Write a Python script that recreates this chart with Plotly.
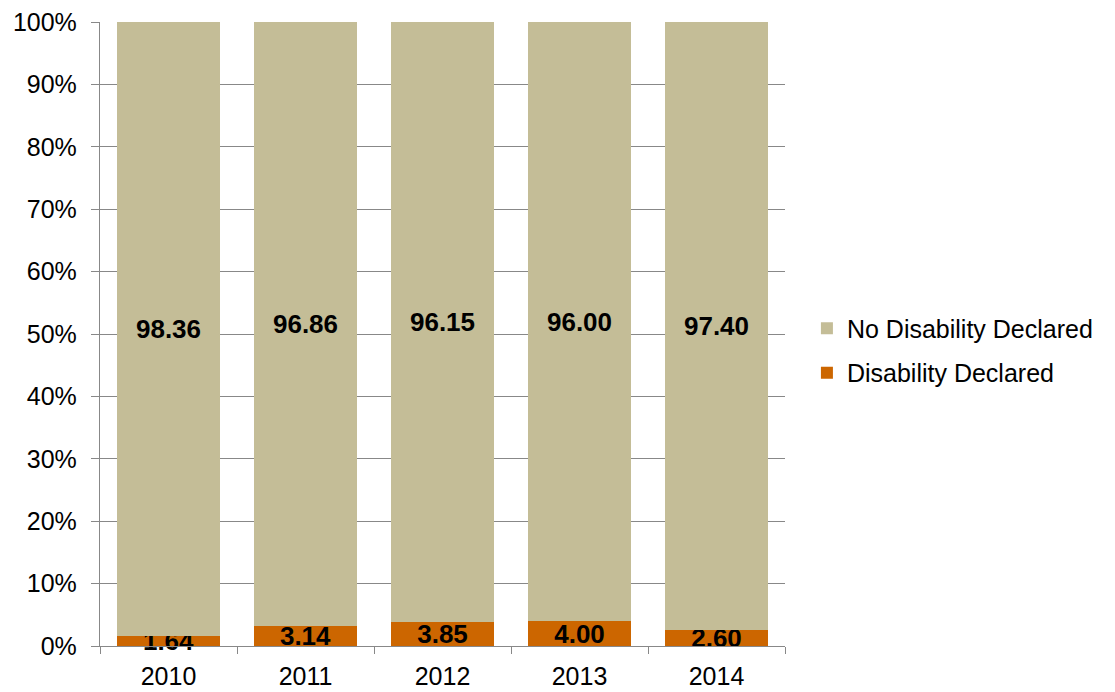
import plotly.graph_objects as go

years = ["2010", "2011", "2012", "2013", "2014"]
disability = [1.64, 3.14, 3.85, 4.00, 2.60]
no_disability = [98.36, 96.86, 96.15, 96.00, 97.40]

FONT = "Liberation Sans, Arial"

fig = go.Figure()
fig.add_trace(go.Bar(
    x=years, y=disability, name="Disability Declared",
    marker=dict(color="#CC6600", line=dict(width=0)),
    texttemplate="%{y:.2f}", textposition="inside", insidetextanchor="middle",
    constraintext="none", cliponaxis=False,
    textfont=dict(family=FONT, size=26, color="black", weight="bold"),
    legendrank=2, legendgroup="dis",
))
fig.add_trace(go.Bar(
    x=years, y=no_disability, name="No Disability Declared",
    marker=dict(color="#C4BD97", line=dict(width=0)),
    texttemplate="%{y:.2f}", textposition="inside", insidetextanchor="middle",
    constraintext="none",
    textfont=dict(family=FONT, size=26, color="black", weight="bold"),
    legendrank=1, legendgroup="nodis",
))

fig.update_layout(
    barmode="stack",
    bargap=0.255,
    width=1107, height=684,
    margin=dict(l=92, r=330, t=14, b=46, autoexpand=False),
    plot_bgcolor="white", paper_bgcolor="white",
    font=dict(family=FONT, size=25, color="black"),
    uniformtext=dict(minsize=26, mode="show"),
    showlegend=True,
    legend=dict(
        x=1.032, xanchor="left", xref="paper", y=0.4736, yanchor="middle",
        traceorder="grouped", tracegroupgap=9,
        font=dict(size=25), itemwidth=30,
    ),
    xaxis=dict(
        showline=True, linecolor="#888888", linewidth=1.3,
        ticks="outside", tickson="boundaries", ticklen=7, tickcolor="#888888",
        tickfont=dict(size=25), showgrid=False, ticklabelstandoff=8,
        automargin=False,
    ),
    yaxis=dict(
        range=[0, 100], dtick=10, ticksuffix="%",
        showline=True, linecolor="#888888", linewidth=1.3,
        ticks="outside", ticklen=8, tickcolor="#888888",
        showgrid=True, gridcolor="#888888", gridwidth=1.3,
        tickfont=dict(size=25), zeroline=False, ticklabelstandoff=9,
        automargin=False, ticklabeloverflow="allow",
    ),
)

fig.write_html("out.html")
